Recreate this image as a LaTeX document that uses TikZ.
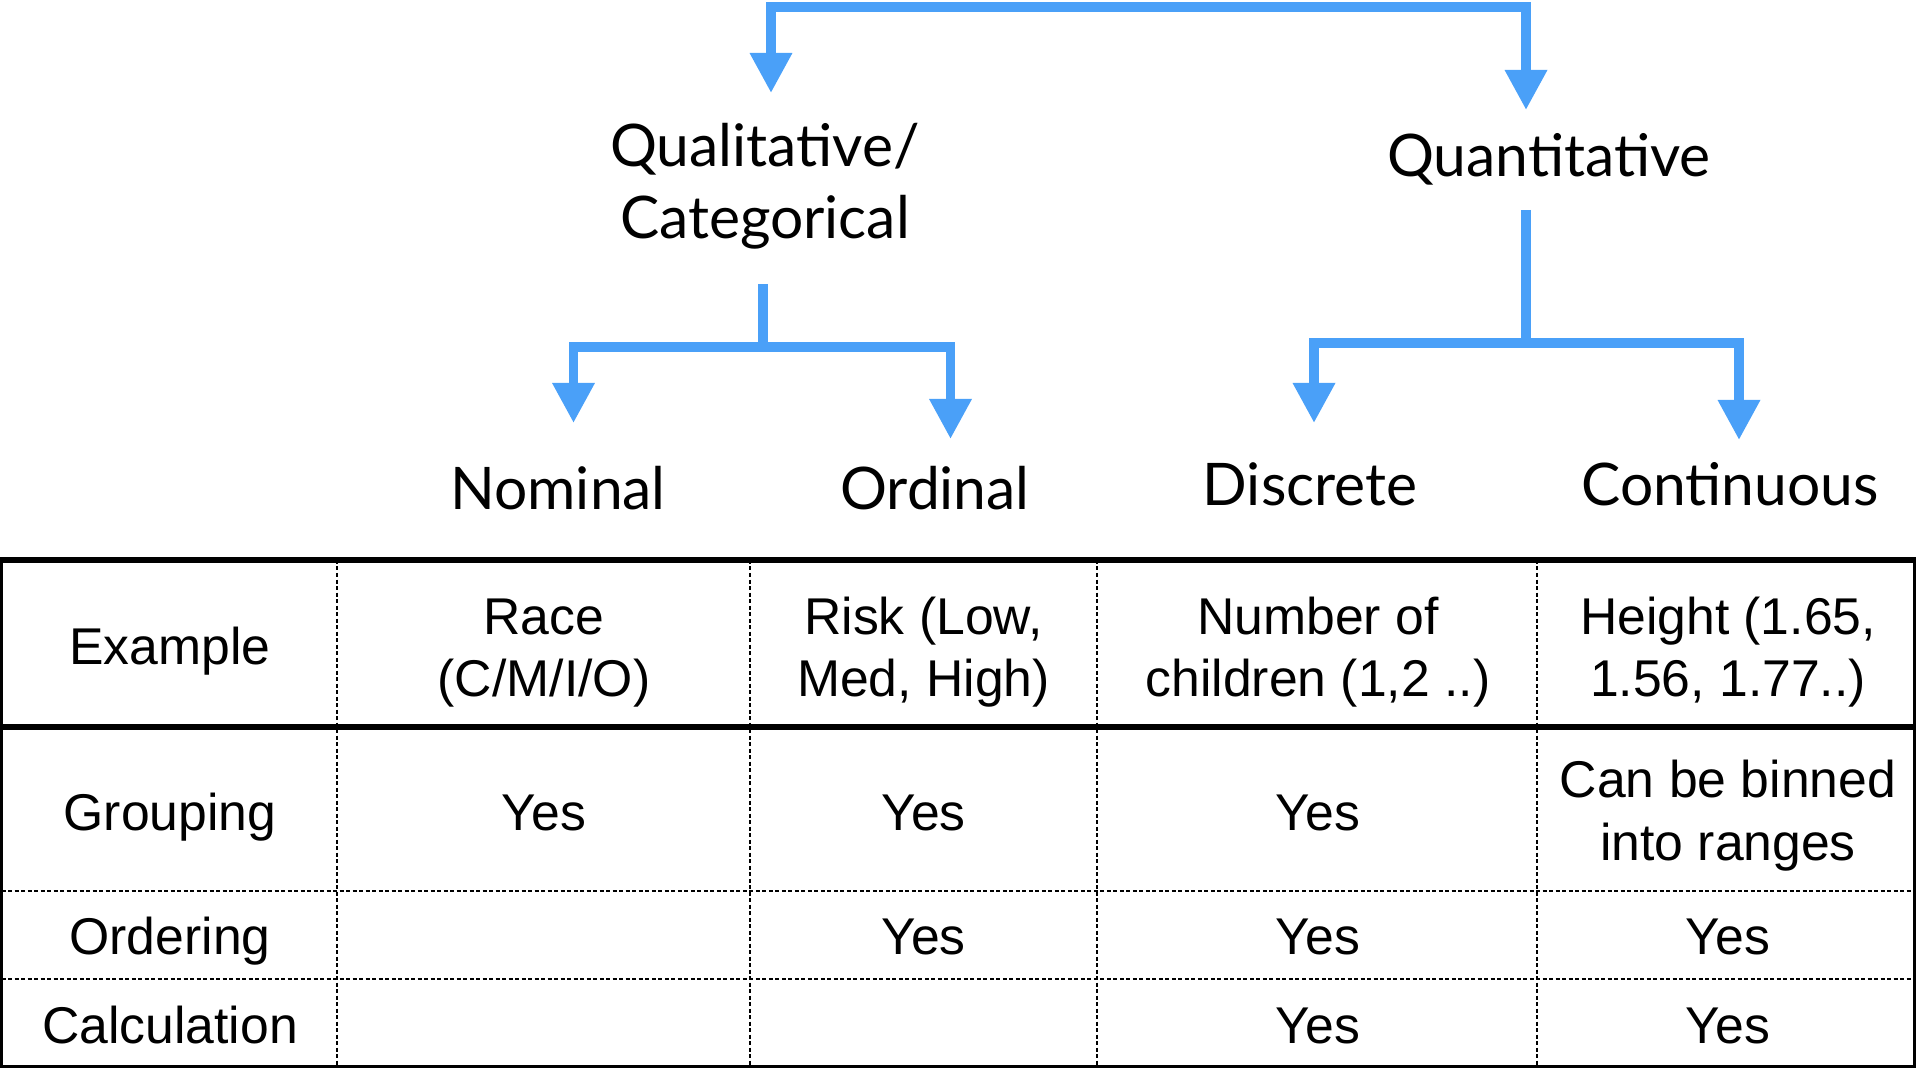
\documentclass[tikz,border=0pt]{standalone}
\usepackage{fontspec}
\setmainfont{Liberation Sans}
\newfontfamily\gillfont{Lato}
\usepackage{tikz}
\usetikzlibrary{arrows.meta}
\definecolor{skyblue}{RGB}{74,160,248}
\begin{document}
\begin{tikzpicture}[x=0.01cm,y=-0.01cm,
  stem/.style={draw=skyblue,line width=0.095cm},
  branch/.style={stem,-{Triangle[width=0.4cm,length=0.4cm]}},
  kind/.style={font=\gillfont\fontsize{16.7}{20.5}\selectfont,inner sep=0pt,align=center,anchor=base},
  cell/.style={font=\fontsize{14.7}{17.9}\selectfont,inner sep=0pt,align=center,anchor=base},
  rule/.style={line width=0.065cm},
  frame/.style={line width=0.03cm},
  divider/.style={line width=0.02cm,dash pattern=on 0.04cm off 0.025cm}]
\useasboundingbox (0,0) rectangle (1922,1074);
% kinds of data
\node[kind] (qual) at (765,239) {Qualitative/\\Categorical};
\node[kind] (quant) at (1549,177) {Quantitative};
\node[kind] (nom) at (558,510) {Nominal};
\node[kind] (ord) at (935,510) {Ordinal};
\node[kind] (disc) at (1310,506) {Discrete};
\node[kind] (cont) at (1730,506) {Continuous};
% tree
\coordinate (root) at (1149,7);
\coordinate (qualtip) at (771,93);
\coordinate (quanttip) at (1526,110);
\draw[branch] (root) -| (qualtip);
\draw[branch] (root) -| (quanttip);
\coordinate (qualstem) at (763,284);
\coordinate (qualjoint) at (763,347);
\coordinate (nomtip) at (573.5,423);
\coordinate (ordtip) at (950.5,439);
\draw[stem] (qualstem) -- (qualjoint);
\draw[branch] (qualjoint) -| (nomtip);
\draw[branch] (qualjoint) -| (ordtip);
\coordinate (quantstem) at (1526,210);
\coordinate (quantjoint) at (1526,343);
\coordinate (disctip) at (1314,423);
\coordinate (conttip) at (1739,440);
\draw[stem] (quantstem) -- (quantjoint);
\draw[branch] (quantjoint) -| (disctip);
\draw[branch] (quantjoint) -| (conttip);
% table
\draw[frame] (1.5,560) -- (1.5,1066.5) -- (1914.5,1066.5) -- (1914.5,560);
\draw[divider] (1.5,891) -- (1914.5,891);
\draw[divider] (1.5,978.5) -- (1914.5,978.5);
\foreach \x in {337,750,1097,1537}
  \draw[divider] (\x,560) -- (\x,1066.5);
\draw[rule] (0,560) -- (1916,560);
\draw[rule] (0,727) -- (1916,727);
% first column
\node[cell] (ex) at (170,665) {Example};
\node[cell] (grp) at (170,831) {Grouping};
\node[cell] (ordr) at (170,955) {Ordering};
\node[cell] (calc) at (170,1043) {Calculation};
% examples
\node[cell] (ex1) at (544,697) {Race\\(C/M/I/O)};
\node[cell] (ex2) at (923.5,697) {Risk (Low,\\Med, High)};
\node[cell] (ex3) at (1318,697) {Number of\\children (1,2 ..)};
\node[cell] (ex4) at (1728,697) {Height (1.65,\\1.56, 1.77..)};
% grouping
\node[cell] (grp1) at (544,831) {Yes};
\node[cell] (grp2) at (923.5,831) {Yes};
\node[cell] (grp3) at (1318,831) {Yes};
\node[cell] (grp4) at (1728,860) {Can be binned\\into ranges};
% ordering
\node[cell] (ordr2) at (923.5,955) {Yes};
\node[cell] (ordr3) at (1318,955) {Yes};
\node[cell] (ordr4) at (1728,955) {Yes};
% calculation
\node[cell] (calc3) at (1318,1043) {Yes};
\node[cell] (calc4) at (1728,1043) {Yes};
\end{tikzpicture}
\end{document}
